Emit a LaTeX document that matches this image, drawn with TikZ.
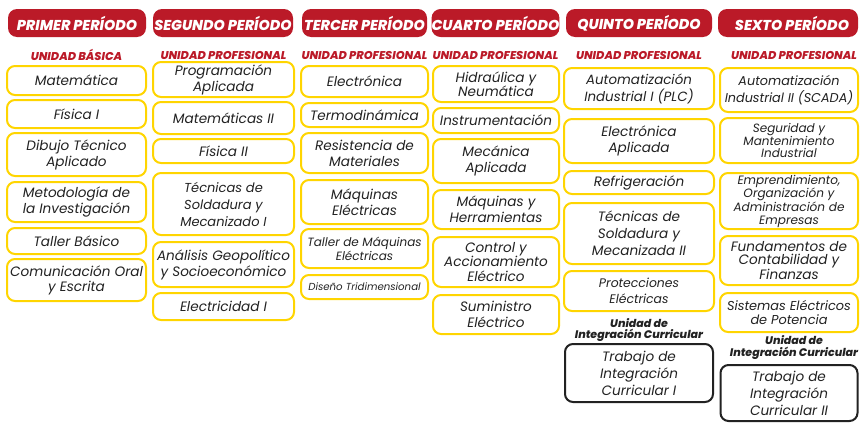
\documentclass[tikz,border=0pt]{standalone}
\usepackage{fontspec}
\setmainfont{Poppins}
\newfontfamily\gruesa{Poppins ExtraBold Italic}
\usepackage{tikz}
\usetikzlibrary{positioning}
\definecolor{rojo}{RGB}{187, 26, 40}
\definecolor{amarillo}{RGB}{255, 213, 0}
\definecolor{negro}{RGB}{34, 34, 34}

\begin{document}
\begin{tikzpicture}[x=1pt, y=-1pt,
  periodo/.style={fill=rojo, rounded corners=9pt, text=white, minimum height=28, inner sep=0pt, font=\fontsize{14.3}{16}\gruesa},
  unidad/.style={text=rojo, inner sep=0pt, font=\fontsize{11.3}{13}\gruesa},
  materia/.style={draw=amarillo, line width=2pt, rounded corners=8pt, fill=white, align=center, inner sep=1pt, text=negro, font=\fontsize{13.6}{16}\selectfont\itshape},
  tic/.style={materia, draw=negro, font=\fontsize{13.6}{17}\selectfont\itshape},
  uic/.style={align=center, inner sep=0pt, text=negro, font=\fontsize{11}{11.5}\gruesa}
]
  \useasboundingbox (0,0) rectangle (860,423);

  % periodos
  \node[periodo, minimum width=138] (p1) at (77, 23) {PRIMER PERÍODO};
  \node[periodo, minimum width=140] (p2) at (223, 23) {SEGUNDO PERÍODO};
  \node[periodo, minimum width=125] (p3) at (364.5, 23) {TERCER PERÍODO};
  \node[periodo, minimum width=125] (p4) at (495.5, 23) {CUARTO PERÍODO};
  \node[periodo, minimum width=146] (p5) at (639, 23) {QUINTO PERÍODO};
  \node[periodo, minimum width=140] (p6) at (788, 23) {\hspace{8pt}SEXTO PERÍODO};

  % unidades
  \node[unidad] (u1) at (76.5, 55) {UNIDAD BÁSICA};
  \node[unidad] (u2) at (223.5, 55) {UNIDAD PROFESIONAL};
  \node[unidad] (u3) at (364.5, 55) {UNIDAD PROFESIONAL};
  \node[unidad] (u4) at (495.5, 55) {UNIDAD PROFESIONAL};
  \node[unidad] (u5) at (639, 55) {UNIDAD PROFESIONAL};
  \node[unidad] (u6) at (794, 55) {UNIDAD PROFESIONAL};

  % primer periodo
  \node[materia, minimum width=139, minimum height=29] (mat1) at (76.5, 80.5) {Matemática};
  \node[materia, minimum width=139, minimum height=28] (fis1) at (76.5, 114) {Física I};
  \node[materia, minimum width=139, minimum height=43] (dib) at (76.5, 154.5) {Dibujo Técnico\\Aplicado};
  \node[materia, minimum width=139, minimum height=40] (met) at (76.5, 202) {Metodología de\\la Investigación};
  \node[materia, minimum width=139, minimum height=26] (tal1) at (76.5, 241) {Taller Básico};
  \node[materia, minimum width=139, minimum height=42, font=\fontsize{13.6}{15}\selectfont\itshape] (com) at (76.5, 280) {Comunicación Oral\\y Escrita};

  % segundo periodo
  \node[materia, minimum width=141, minimum height=35] (prog) at (223.5, 79.5) {Programación\\Aplicada};
  \node[materia, minimum width=141, minimum height=32] (mat2) at (223.5, 118) {Matemáticas II};
  \node[materia, minimum width=141, minimum height=24] (fis2) at (223.5, 151) {Física II};
  \node[materia, minimum width=141, minimum height=62, font=\fontsize{13}{17}\selectfont\itshape] (sol1) at (223.5, 204) {Técnicas de\\Soldadura y\\Mecanizado I};
  \node[materia, minimum width=141, minimum height=45] (geo) at (223.5, 264.5) {Análisis Geopolítico\\y Socioeconómico};
  \node[materia, minimum width=141, minimum height=27] (ele1) at (223.5, 306.5) {Electricidad I};

  % tercer periodo
  \node[materia, minimum width=127, minimum height=31] (elec) at (364.5, 81.5) {Electrónica};
  \node[materia, minimum width=127, minimum height=24] (ter) at (364.5, 115) {Termodinámica};
  \node[materia, minimum width=127, minimum height=40] (res) at (364.5, 153) {Resistencia de\\Materiales};
  \node[materia, minimum width=127, minimum height=44] (maq) at (364.5, 202) {Máquinas\\Eléctricas};
  \node[materia, minimum width=127, minimum height=39, font=\fontsize{12}{14}\selectfont\itshape] (tmaq) at (364.5, 248.5) {Taller de Máquinas\\Eléctricas};
  \node[materia, minimum width=127, minimum height=24, font=\fontsize{10.2}{12}\selectfont\itshape] (dis) at (364.5, 287) {Diseño Tridimensional};

  % cuarto periodo
  \node[materia, minimum width=126, minimum height=36, font=\fontsize{13.6}{14.2}\selectfont\itshape] (hid) at (496, 84) {Hidraúlica y\\Neumática};
  \node[materia, minimum width=126, minimum height=25] (ins) at (496, 120.5) {Instrumentación};
  \node[materia, minimum width=126, minimum height=44] (mec) at (496, 161) {Mecánica\\Aplicada};
  \node[materia, minimum width=126, minimum height=39] (her) at (496, 209.5) {Máquinas y\\Herramientas};
  \node[materia, minimum width=126, minimum height=50, font=\fontsize{13.6}{14.2}\selectfont\itshape] (con) at (496, 262) {Control y\\Accionamiento\\Eléctrico};
  \node[materia, minimum width=126, minimum height=39] (sum) at (496, 314.5) {Suministro\\Eléctrico};

  % quinto periodo
  \node[materia, minimum width=150, minimum height=41, font=\fontsize{13.4}{17}\selectfont\itshape] (aut1) at (639, 88.5) {Automatización\\Industrial I (PLC)};
  \node[materia, minimum width=150, minimum height=44, font=\fontsize{13.6}{16.7}\selectfont\itshape] (elap) at (639, 141) {Electrónica\\Aplicada};
  \node[materia, minimum width=150, minimum height=23] (ref) at (639, 182.5) {Refrigeración};
  \node[materia, minimum width=150, minimum height=61, font=\fontsize{13.6}{17}\selectfont\itshape] (sol2) at (639, 233.5) {Técnicas de\\Soldadura y\\Mecanizada II};
  \node[materia, minimum width=150, minimum height=40, font=\fontsize{12.4}{16}\selectfont\itshape] (pro) at (639, 291) {Protecciones\\Eléctricas};
  \node[uic] (uic1) at (639, 330) {Unidad de\\Integración Curricular};
  \node[tic, minimum width=148, minimum height=58] (tic1) at (639, 373) {Trabajo de\\Integración\\Curricular I};

  % sexto periodo
  \node[materia, minimum width=138, minimum height=44, font=\fontsize{12.8}{16.7}\selectfont\itshape] (aut2) at (789, 90) {Automatización\\Industrial II (SCADA)};
  \node[materia, minimum width=138, minimum height=45, font=\fontsize{12}{12.5}\selectfont\itshape] (seg) at (789, 140.5) {Seguridad y\\Mantenimiento\\Industrial};
  \node[materia, minimum width=138, minimum height=56, font=\fontsize{12.1}{12.5}\selectfont\itshape] (emp) at (789, 201) {Emprendimiento,\\Organización y\\Administración de\\Empresas};
  \node[materia, minimum width=138, minimum height=49, font=\fontsize{13.6}{13.8}\selectfont\itshape] (fun) at (789, 260.5) {Fundamentos de\\Contabilidad y\\Finanzas};
  \node[materia, minimum width=138, minimum height=39, font=\fontsize{12.9}{13.8}\selectfont\itshape] (sis) at (789, 312.5) {Sistemas Eléctricos\\de Potencia};
  \node[uic] (uic2) at (794, 347.5) {Unidad de\\Integración Curricular};
  \node[tic, minimum width=137, minimum height=56] (tic2) at (789, 393) {Trabajo de\\Integración\\Curricular II};
\end{tikzpicture}
\end{document}
